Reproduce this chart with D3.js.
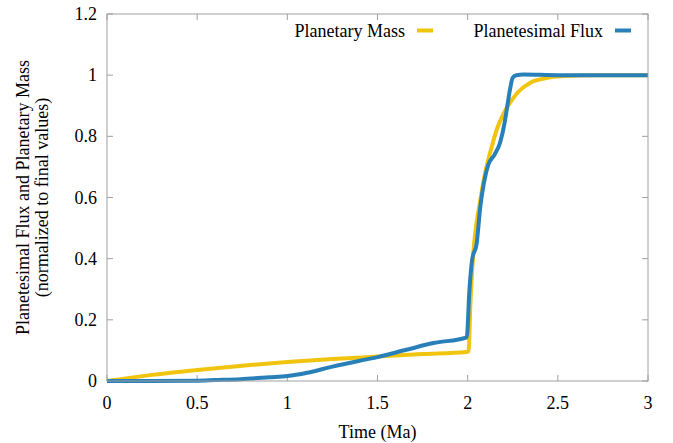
<!DOCTYPE html>
<html>
<head>
<meta charset="utf-8">
<script src="https://cdn.jsdelivr.net/npm/d3@7"></script>
<style>
  body { margin: 0; background: #fff; }
</style>
</head>
<body>
<svg id="chart" width="673" height="443" font-family="'Liberation Serif', 'Times New Roman', Times, 'DejaVu Serif', serif"></svg>
<script>
// planetary mass, normalized
var massTime = [0, 0.25, 0.5, 0.75, 1.0, 1.25, 1.5, 1.75, 1.99, 2.005, 2.015, 2.03, 2.05, 2.07, 2.09,
    2.115, 2.14, 2.16, 2.2, 2.235, 2.28, 2.35, 2.43, 2.53, 2.7, 3.0];
var massValue = [0, 0.02, 0.036, 0.05, 0.062, 0.072, 0.08, 0.088, 0.095, 0.097, 0.25, 0.41, 0.52, 0.59, 0.66,
    0.725, 0.78, 0.82, 0.875, 0.91, 0.945, 0.976, 0.99, 0.997, 1.0, 1.0];

// planetesimal flux, normalized
var fluxTime = [0, 0.25, 0.5, 0.6, 0.74, 0.9, 1.0, 1.11, 1.25, 1.4, 1.5, 1.66, 1.81, 1.995, 2.01, 2.025,
    2.05, 2.07, 2.09, 2.115, 2.15, 2.18, 2.205, 2.22, 2.235, 2.25, 2.27, 2.31, 2.5, 3.0];
var fluxValue = [0, 0, 0.001, 0.003, 0.006, 0.012, 0.016, 0.027, 0.047, 0.066, 0.078, 0.102, 0.124, 0.143, 0.3, 0.397,
    0.45, 0.57, 0.648, 0.708, 0.741, 0.78, 0.845, 0.9, 0.954, 0.992, 1.0, 1.002, 1.0, 1.0];

var xTicks = [0, 0.5, 1, 1.5, 2, 2.5, 3];
var yTicks = [0, 0.2, 0.4, 0.6, 0.8, 1, 1.2];

var series = [
    { name: "Planetary Mass", color: "#f1c40f", t: massTime, v: massValue },
    { name: "Planetesimal Flux", color: "#2980b9", t: fluxTime, v: fluxValue }
];

var svg = d3.select("#chart");
var pLeft = 107, pRight = 648, pTop = 14, pBottom = 381;
var fs = 18;

var x = d3.scaleLinear().domain([0, 3]).range([pLeft, pRight]);
var y = d3.scaleLinear().domain([0, 1.2]).range([pBottom, pTop]);

var tickLen = 6;
var gridColor = "#a0a0a0";

// ticks on all four sides, pointing in
var ax = svg.append("g");
xTicks.forEach(function(d) {
    ax.append("line").attr("x1", x(d)).attr("x2", x(d)).attr("y1", pBottom).attr("y2", pBottom - tickLen)
        .attr("stroke", gridColor);
    ax.append("line").attr("x1", x(d)).attr("x2", x(d)).attr("y1", pTop).attr("y2", pTop + tickLen)
        .attr("stroke", gridColor);
    ax.append("text").attr("x", x(d)).attr("y", pBottom + 28).attr("text-anchor", "middle")
        .attr("font-size", fs).text(d);
});
yTicks.forEach(function(d) {
    ax.append("line").attr("x1", pLeft).attr("x2", pLeft + tickLen).attr("y1", y(d)).attr("y2", y(d))
        .attr("stroke", gridColor);
    ax.append("line").attr("x1", pRight).attr("x2", pRight - tickLen).attr("y1", y(d)).attr("y2", y(d))
        .attr("stroke", gridColor);
    ax.append("text").attr("x", pLeft - 10).attr("y", y(d) + 6).attr("text-anchor", "end")
        .attr("font-size", fs).text(d);
});

var line = d3.line()
    .x(function(d) { return x(d[0]); })
    .y(function(d) { return y(d[1]); })
    .curve(d3.curveMonotoneX);

series.forEach(function(s) {
    var pts = s.t.map(function(t, i) { return [t, s.v[i]]; });
    svg.append("path")
        .attr("d", line(pts))
        .attr("fill", "none")
        .attr("stroke", s.color)
        .attr("stroke-width", 4)
        .attr("stroke-linejoin", "round");
});

svg.append("rect")
    .attr("x", pLeft).attr("y", pTop)
    .attr("width", pRight - pLeft).attr("height", pBottom - pTop)
    .attr("fill", "none").attr("stroke", gridColor).attr("stroke-width", 1);

// legend
var legendX = [405, 603];
series.forEach(function(s, i) {
    svg.append("text").attr("x", legendX[i]).attr("y", 37).attr("text-anchor", "end")
        .attr("font-size", fs).text(s.name);
    svg.append("line")
        .attr("x1", legendX[i] + 12).attr("x2", legendX[i] + 28)
        .attr("y1", 30.5).attr("y2", 30.5)
        .attr("stroke", s.color).attr("stroke-width", 4);
});

// axis titles
svg.append("text").attr("x", (pLeft + pRight) / 2).attr("y", 438).attr("text-anchor", "middle")
    .attr("font-size", fs).text("Time (Ma)");

var yl = svg.append("text").attr("transform", "translate(0," + ((pTop + pBottom) / 2) + ") rotate(-90)")
    .attr("text-anchor", "middle").attr("font-size", fs);
yl.append("tspan").attr("x", 0).attr("y", 29).text("Planetesimal Flux and Planetary Mass");
yl.append("tspan").attr("x", 0).attr("y", 48).text("(normalized to final values)");
</script>
</body>
</html>
